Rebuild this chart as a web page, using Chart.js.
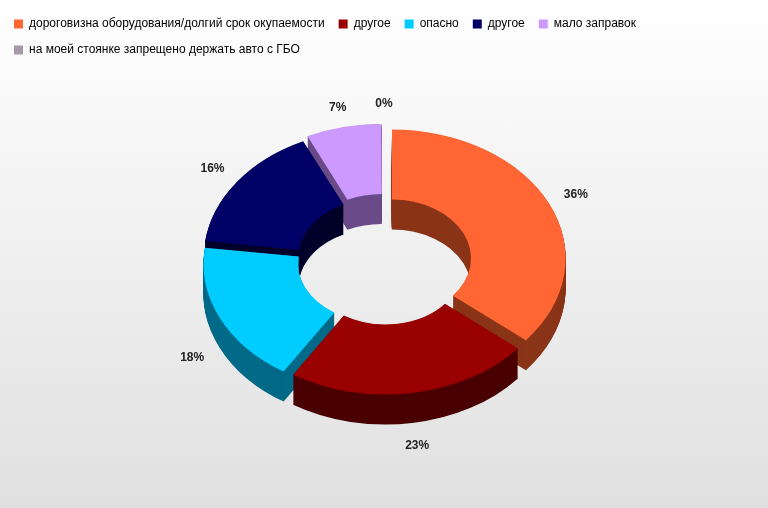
<!DOCTYPE html>
<html><head><meta charset="utf-8">
<script src="https://cdn.jsdelivr.net/npm/chart.js@4"></script>
<style>html,body{margin:0;padding:0}body{width:768px;height:508px;background:linear-gradient(#ffffff,#e0e0e0)}</style>
</head><body><canvas id="c" width="768" height="508"></canvas>
<script>
const categories=["дороговизна оборудования/долгий срок окупаемости","другое","опасно","другое","мало заправок","на моей стоянке запрещено держать авто с ГБО"];
const values=[36,23,18,16,7,0];
const colors=["#FF6633","#990000","#00CCFF","#000066","#CC99FF","#A899AA"];
const sideColors=["#8a3418","#4a0000","#006a88","#00002a","#6a4a88","#555"];
const SY=0.74, DEPTH=30;
const squash={id:'squash',
 beforeDatasetsDraw(chart){
  const ctx=chart.ctx,m=chart.getDatasetMeta(0),a=m.data[0];
  const cx=a.x,cy=a.y;
  ctx.save();ctx.translate(cx,cy);ctx.scale(1,SY);ctx.translate(-cx,-cy);
  for(let d=DEPTH/SY;d>0;d-=1){
   ctx.save();ctx.translate(0,d);
   m.data.forEach((el,i)=>{if(!values[i])return;const bg=el.options.backgroundColor;el.options.backgroundColor=sideColors[i];el.draw(ctx);el.options.backgroundColor=bg;});
   ctx.restore();
  }
 },
 afterDatasetsDraw(chart){
  const ctx=chart.ctx;ctx.restore();
  const m=chart.getDatasetMeta(0);
  ctx.save();ctx.font='bold 12px Arial';ctx.fillStyle='#222';ctx.textAlign='center';ctx.textBaseline='middle';
  m.data.forEach((el,i)=>{
   const mid=(el.startAngle+el.endAngle)/2,r=el.outerRadius+40;
   const x=el.x+Math.cos(mid)*r,y=el.y+Math.sin(mid)*r*SY+(Math.sin(mid)>0.3?DEPTH:0);
   ctx.fillText(values[i]+'%',x,y);
  });
  ctx.restore();
 }};
new Chart(document.getElementById('c'),{type:'doughnut',
 data:{labels:categories,datasets:[{data:values,backgroundColor:colors,borderWidth:0,offset:34,hoverOffset:0}]},
 options:{responsive:false,animation:false,cutout:'45%',radius:172,
  layout:{padding:{bottom:70,top:4}},
  plugins:{tooltip:{enabled:false},
   legend:{position:'top',align:'start',labels:{boxWidth:9,boxHeight:9,font:{family:'Arial',size:12},color:'#000',padding:14}}}},
 plugins:[squash,{id:'lp',beforeInit(c){const f=c.legend.fit;c.legend.fit=function(){f.bind(this)();this.height+=18;};}}]
});
</script></body></html>
